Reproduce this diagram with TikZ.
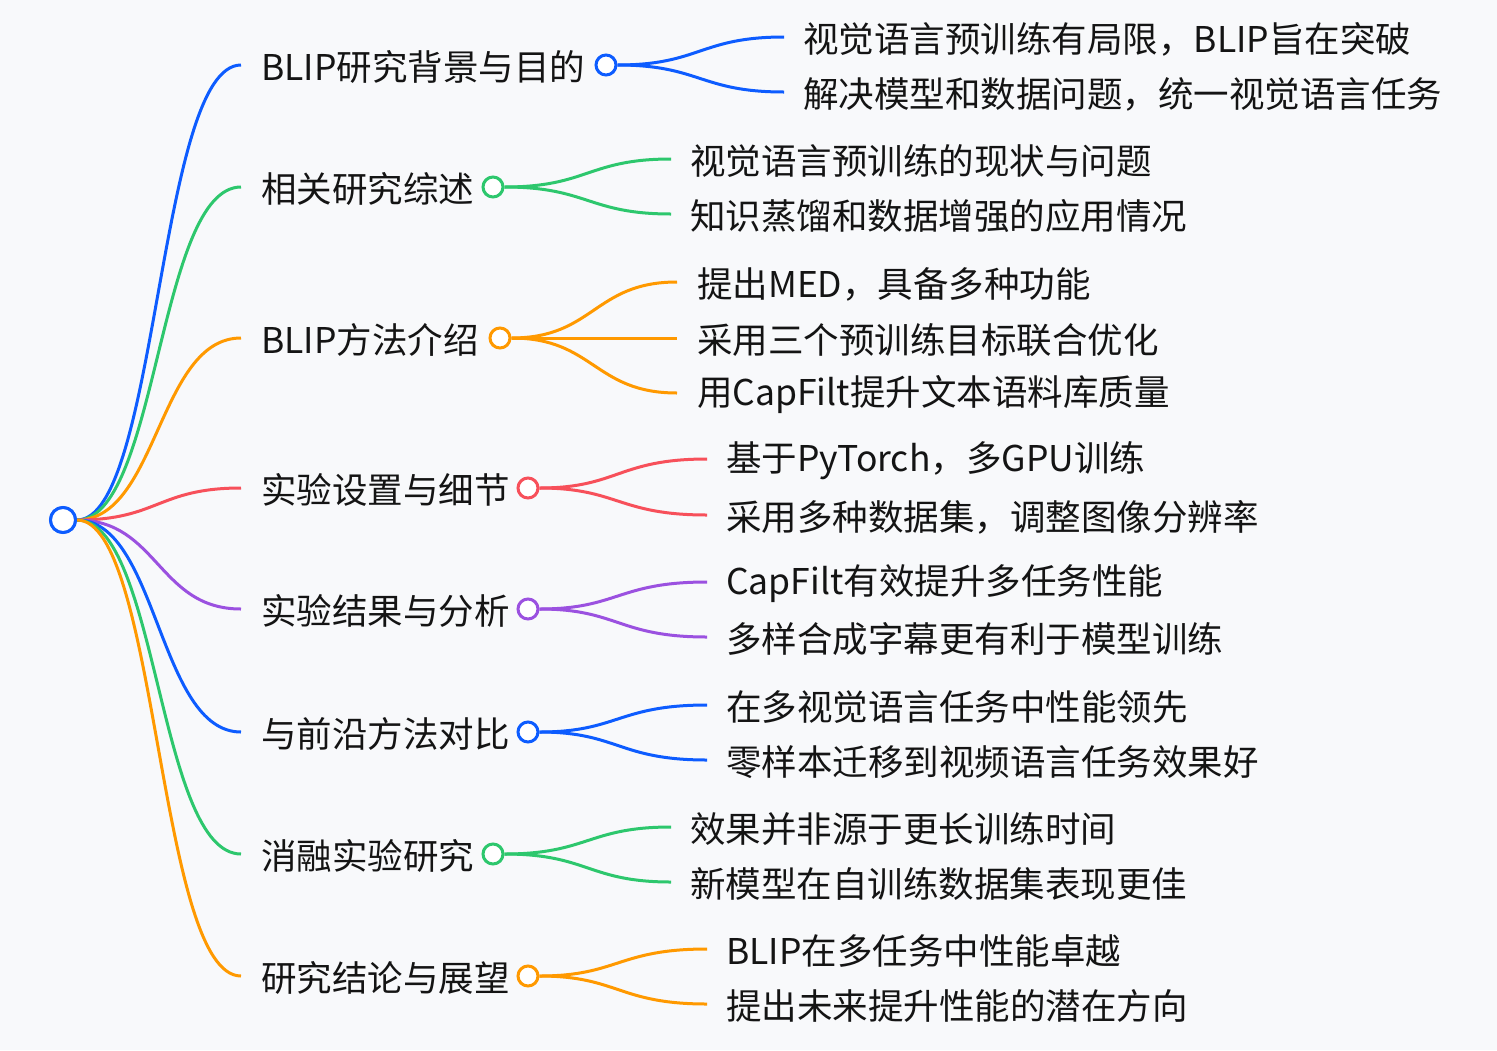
\documentclass[tikz,border=0pt]{standalone}
\usepackage{fontspec}
\setmainfont{Noto Sans CJK SC}
\definecolor{bgc}{HTML}{F8F9FB}
\definecolor{cblue}{HTML}{0D5CFF}
\definecolor{cgreen}{HTML}{2DC76D}
\definecolor{corange}{HTML}{FF9900}
\definecolor{cred}{HTML}{F7505A}
\definecolor{cpurple}{HTML}{9B51E0}
\begin{document}
\begin{tikzpicture}[x=1pt,y=-1pt,
  lbl/.style={anchor=west, inner sep=0pt, yshift=-2pt, font=\fontsize{35.5}{40}\selectfont, text=black!92},
  dot/.style={circle, draw=#1, fill=white, line width=3pt, minimum size=20pt, inner sep=0pt},
  link/.style={draw=#1, line width=3pt}]
\fill[bgc] (0,0) rectangle (1497,1050);
\useasboundingbox (0,0) rectangle (1497,1050);

% root
\node[dot=cblue, minimum size=25pt] (root) at (63,520) {};

% ---------- branch 1
\coordinate (e1) at (241,65);
\node[lbl] (b1) at (261,65) {BLIP研究背景与目的};
\node[dot=cblue] (d1) at (606,65) {};
\draw[link=cblue] (root.east) .. controls (158,520) and (158,65) .. (e1);
\coordinate (c11) at (784,37); \node[lbl] (t11) at (803,37) {视觉语言预训练有局限，BLIP旨在突破};
\coordinate (c12) at (784,92); \node[lbl] (t12) at (803,92) {解决模型和数据问题，统一视觉语言任务};
\draw[link=cblue] (d1.east) .. controls (700,65) and (700,37) .. (c11);
\draw[link=cblue] (d1.east) .. controls (700,65) and (700,92) .. (c12);

% ---------- branch 2
\coordinate (e2) at (241,187);
\node[lbl] (b2) at (261,187) {相关研究综述};
\node[dot=cgreen] (d2) at (493,187) {};
\draw[link=cgreen] (root.east) .. controls (158,520) and (158,187) .. (e2);
\coordinate (c21) at (671,159); \node[lbl] (t21) at (690,159) {视觉语言预训练的现状与问题};
\coordinate (c22) at (671,214); \node[lbl] (t22) at (690,214) {知识蒸馏和数据增强的应用情况};
\draw[link=cgreen] (d2.east) .. controls (588,187) and (588,159) .. (c21);
\draw[link=cgreen] (d2.east) .. controls (588,187) and (588,214) .. (c22);

% ---------- branch 3
\coordinate (e3) at (241,338);
\node[lbl] (b3) at (261,338) {BLIP方法介绍};
\node[dot=corange] (d3) at (500,338) {};
\draw[link=corange] (root.east) .. controls (158,520) and (158,338) .. (e3);
\coordinate (c31) at (677,282); \node[lbl] (t31) at (697,282) {提出MED，具备多种功能};
\coordinate (c32) at (677,338); \node[lbl] (t32) at (697,338) {采用三个预训练目标联合优化};
\coordinate (c33) at (677,393); \node[lbl] (t33) at (697,393) {用CapFilt提升文本语料库质量};
\draw[link=corange] (d3.east) .. controls (594,338) and (594,282) .. (c31);
\draw[link=corange] (d3.east) -- (c32);
\draw[link=corange] (d3.east) .. controls (594,338) and (594,393) .. (c33);

% ---------- branch 4
\coordinate (e4) at (241,488);
\node[lbl] (b4) at (261,488) {实验设置与细节};
\node[dot=cred] (d4) at (528,488) {};
\draw[link=cred] (root.east) .. controls (158,520) and (158,488) .. (e4);
\coordinate (c41) at (707,459); \node[lbl] (t41) at (726,459) {基于PyTorch，多GPU训练};
\coordinate (c42) at (707,515); \node[lbl] (t42) at (726,515) {采用多种数据集，调整图像分辨率};
\draw[link=cred] (d4.east) .. controls (618,488) and (618,459) .. (c41);
\draw[link=cred] (d4.east) .. controls (618,488) and (618,515) .. (c42);

% ---------- branch 5
\coordinate (e5) at (241,609);
\node[lbl] (b5) at (261,609) {实验结果与分析};
\node[dot=cpurple] (d5) at (528,609) {};
\draw[link=cpurple] (root.east) .. controls (158,520) and (158,609) .. (e5);
\coordinate (c51) at (707,582); \node[lbl] (t51) at (726,582) {CapFilt有效提升多任务性能};
\coordinate (c52) at (707,637); \node[lbl] (t52) at (726,637) {多样合成字幕更有利于模型训练};
\draw[link=cpurple] (d5.east) .. controls (618,609) and (618,582) .. (c51);
\draw[link=cpurple] (d5.east) .. controls (618,609) and (618,637) .. (c52);

% ---------- branch 6
\coordinate (e6) at (241,732);
\node[lbl] (b6) at (261,732) {与前沿方法对比};
\node[dot=cblue] (d6) at (528,732) {};
\draw[link=cblue] (root.east) .. controls (158,520) and (158,732) .. (e6);
\coordinate (c61) at (707,705); \node[lbl] (t61) at (726,705) {在多视觉语言任务中性能领先};
\coordinate (c62) at (707,760); \node[lbl] (t62) at (726,760) {零样本迁移到视频语言任务效果好};
\draw[link=cblue] (d6.east) .. controls (618,732) and (618,705) .. (c61);
\draw[link=cblue] (d6.east) .. controls (618,732) and (618,760) .. (c62);

% ---------- branch 7
\coordinate (e7) at (241,854);
\node[lbl] (b7) at (261,854) {消融实验研究};
\node[dot=cgreen] (d7) at (493,854) {};
\draw[link=cgreen] (root.east) .. controls (158,520) and (158,854) .. (e7);
\coordinate (c71) at (671,827); \node[lbl] (t71) at (690,827) {效果并非源于更长训练时间};
\coordinate (c72) at (671,882); \node[lbl] (t72) at (690,882) {新模型在自训练数据集表现更佳};
\draw[link=cgreen] (d7.east) .. controls (588,854) and (588,827) .. (c71);
\draw[link=cgreen] (d7.east) .. controls (588,854) and (588,882) .. (c72);

% ---------- branch 8
\coordinate (e8) at (241,976);
\node[lbl] (b8) at (261,976) {研究结论与展望};
\node[dot=corange] (d8) at (528,976) {};
\draw[link=corange] (root.east) .. controls (158,520) and (158,976) .. (e8);
\coordinate (c81) at (707,949); \node[lbl] (t81) at (726,949) {BLIP在多任务中性能卓越};
\coordinate (c82) at (707,1004); \node[lbl] (t82) at (726,1004) {提出未来提升性能的潜在方向};
\draw[link=corange] (d8.east) .. controls (618,976) and (618,949) .. (c81);
\draw[link=corange] (d8.east) .. controls (618,976) and (618,1004) .. (c82);

% redraw root on top
\node[dot=cblue, minimum size=25pt] at (root) {};
\end{tikzpicture}
\end{document}
